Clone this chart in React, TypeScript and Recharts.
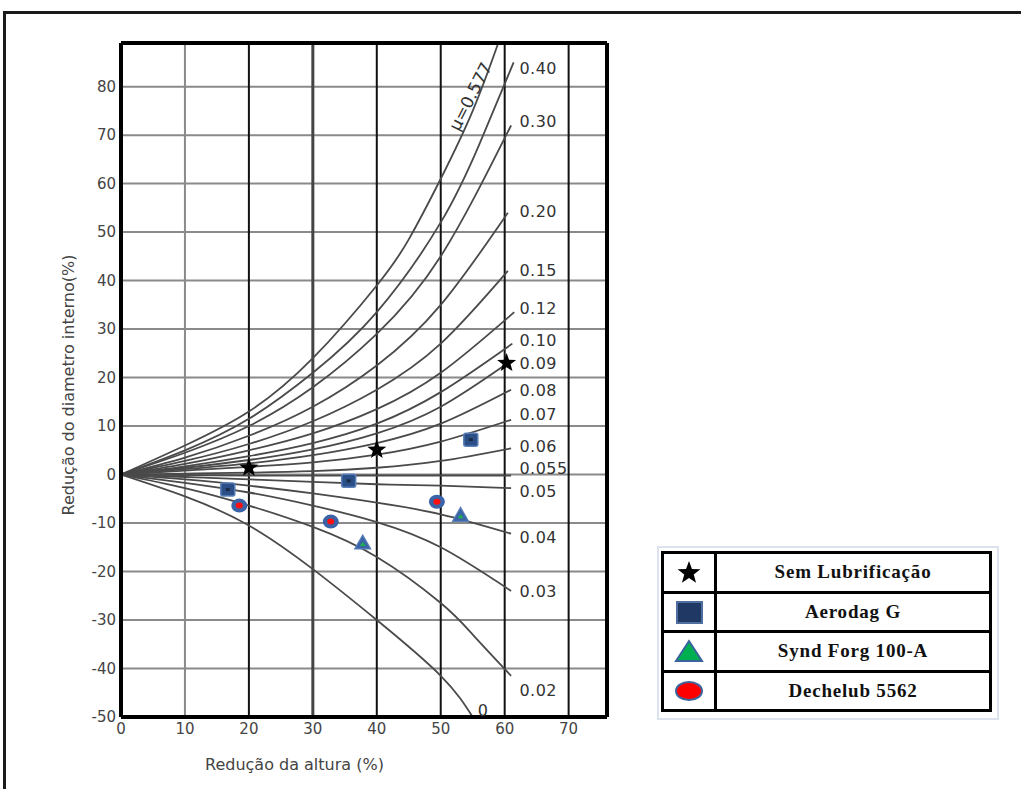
import React from "react";
import { CartesianGrid, ComposedChart, Line, ReferenceLine, Scatter, XAxis, YAxis } from "recharts";

const xTicks = [0, 10, 20, 30, 40, 50, 60, 70];
const yTicks = [-50, -40, -30, -20, -10, 0, 10, 20, 30, 40, 50, 60, 70, 80];

// calibration curves (friction factor)
const mu0577 = [{ x: 0, y: 0 }, { x: 10, y: 6 }, { x: 20, y: 13 }, { x: 30, y: 24 }, { x: 40, y: 39 }, { x: 45, y: 48.5 }, { x: 50, y: 61 }, { x: 55, y: 75 }, { x: 59, y: 89 }];
const mu040 = [{ x: 0, y: 0 }, { x: 10, y: 5 }, { x: 20, y: 11.5 }, { x: 30, y: 21 }, { x: 40, y: 33.5 }, { x: 50, y: 52 }, { x: 56, y: 68 }, { x: 61.4, y: 85 }];
const mu030 = [{ x: 0, y: 0 }, { x: 10, y: 4.5 }, { x: 20, y: 10 }, { x: 30, y: 18 }, { x: 40, y: 29 }, { x: 50, y: 45 }, { x: 61, y: 72 }];
const mu020 = [{ x: 0, y: 0 }, { x: 10, y: 3.5 }, { x: 20, y: 8 }, { x: 30, y: 14 }, { x: 40, y: 22.5 }, { x: 50, y: 35 }, { x: 60.5, y: 54 }];
const mu015 = [{ x: 0, y: 0 }, { x: 10, y: 2.8 }, { x: 20, y: 6.3 }, { x: 30, y: 11 }, { x: 40, y: 17.5 }, { x: 50, y: 27 }, { x: 60.5, y: 42 }];
const mu012 = [{ x: 0, y: 0 }, { x: 10, y: 2.2 }, { x: 20, y: 5 }, { x: 30, y: 8.5 }, { x: 40, y: 13.5 }, { x: 50, y: 21 }, { x: 61.5, y: 33.5 }];
const mu010 = [{ x: 0, y: 0 }, { x: 10, y: 1.7 }, { x: 20, y: 3.8 }, { x: 30, y: 6.5 }, { x: 40, y: 10.5 }, { x: 50, y: 17 }, { x: 61.2, y: 27 }];
const mu009 = [{ x: 0, y: 0 }, { x: 10, y: 1.4 }, { x: 20, y: 3 }, { x: 30, y: 5.2 }, { x: 40, y: 8.5 }, { x: 50, y: 14 }, { x: 60.5, y: 23 }];
const mu008 = [{ x: 0, y: 0 }, { x: 10, y: 1.1 }, { x: 20, y: 2.3 }, { x: 30, y: 4 }, { x: 40, y: 6.5 }, { x: 50, y: 10.5 }, { x: 61, y: 17.5 }];
const mu007 = [{ x: 0, y: 0 }, { x: 10, y: 0.8 }, { x: 20, y: 1.6 }, { x: 30, y: 2.5 }, { x: 40, y: 4.1 }, { x: 50, y: 6.8 }, { x: 61, y: 11.3 }];
const mu006 = [{ x: 0, y: 0 }, { x: 10, y: 0.2 }, { x: 20, y: 0.4 }, { x: 30, y: 0.7 }, { x: 40, y: 1.4 }, { x: 50, y: 2.8 }, { x: 61, y: 5.4 }];
const mu0055 = [{ x: 0, y: 0 }, { x: 20, y: -0.2 }, { x: 40, y: -0.2 }, { x: 61, y: -0.2 }];
const mu005 = [{ x: 0, y: 0 }, { x: 10, y: -0.5 }, { x: 20, y: -1 }, { x: 30, y: -1.5 }, { x: 40, y: -2 }, { x: 50, y: -2.3 }, { x: 61, y: -2.8 }];
const mu004 = [{ x: 0, y: 0 }, { x: 10, y: -1 }, { x: 20, y: -2.3 }, { x: 30, y: -3.9 }, { x: 40, y: -5.8 }, { x: 50, y: -8.2 }, { x: 61, y: -12.2 }];
const mu003 = [{ x: 0, y: 0 }, { x: 10, y: -1.7 }, { x: 20, y: -3.7 }, { x: 30, y: -6.4 }, { x: 40, y: -9.8 }, { x: 50, y: -15 }, { x: 61, y: -24 }];
const mu002 = [{ x: 0, y: 0 }, { x: 10, y: -2.8 }, { x: 20, y: -6.4 }, { x: 30, y: -10.8 }, { x: 40, y: -17 }, { x: 50, y: -26.5 }, { x: 55, y: -33 }, { x: 61, y: -41.5 }];
const mu000 = [{ x: 0, y: 0 }, { x: 10, y: -4.5 }, { x: 20, y: -10.5 }, { x: 30, y: -19.5 }, { x: 40, y: -30 }, { x: 50, y: -41.5 }, { x: 55, y: -50 }];

const curves = [mu0577, mu040, mu030, mu020, mu015, mu012, mu010, mu009, mu008, mu007, mu006, mu0055, mu005, mu004, mu003, mu002, mu000];

const curveLabels = [
  { x: 62.3, y: 83.7, text: "0.40" },
  { x: 62.3, y: 72.8, text: "0.30" },
  { x: 62.3, y: 54.4, text: "0.20" },
  { x: 62.3, y: 42.2, text: "0.15" },
  { x: 62.3, y: 34.4, text: "0.12" },
  { x: 62.3, y: 27.8, text: "0.10" },
  { x: 62.3, y: 23.0, text: "0.09" },
  { x: 62.3, y: 17.4, text: "0.08" },
  { x: 62.3, y: 12.4, text: "0.07" },
  { x: 62.3, y: 5.9, text: "0.06" },
  { x: 62.3, y: 1.2, text: "0.055" },
  { x: 62.3, y: -3.4, text: "0.05" },
  { x: 62.3, y: -12.9, text: "0.04" },
  { x: 62.3, y: -24, text: "0.03" },
  { x: 62.3, y: -44.5, text: "0.02" },
  { x: 55.8, y: -48.6, text: "0" },
];
const muLabel = [{ x: 54.6, y: 78, text: "μ=0.577" }];

// experimental points
const semLubrificacao = [{ x: 20, y: 1.4 }, { x: 40, y: 5.1 }, { x: 60.3, y: 23 }];
const aerodag = [{ x: 16.7, y: -3.1 }, { x: 35.6, y: -1.3 }, { x: 54.7, y: 7.2 }];
const syndForg = [{ x: 37.8, y: -14.1 }, { x: 53.1, y: -8.4 }];
const dechelub = [{ x: 18.5, y: -6.4 }, { x: 32.8, y: -9.7 }, { x: 49.4, y: -5.6 }];

const legendRows = ["Sem Lubrificação", "Aerodag G", "Synd Forg 100-A", "Dechelub 5562"];

const AXIS_FONT = "'DejaVu Sans', Verdana, sans-serif";

function starPath(cx: number, cy: number, R: number, r: number) {
  let d = "";
  for (let i = 0; i < 10; i++) {
    const a = -Math.PI / 2 + (i * Math.PI) / 5;
    const rad = i % 2 === 0 ? R : r;
    d += (i === 0 ? "M" : "L") + (cx + rad * Math.cos(a)).toFixed(2) + "," + (cy + rad * Math.sin(a)).toFixed(2);
  }
  return d + "Z";
}

const StarShape = (p: any) => <path d={starPath(p.cx, p.cy, 10, 4.2)} fill="#000" />;
const SquareShape = (p: any) => (
  <g>
    <rect x={p.cx - 7} y={p.cy - 6.5} width={14} height={13} rx={2} fill="#2B4F86" stroke="#5B7FB8" strokeWidth={1.5} />
    <rect x={p.cx - 2} y={p.cy - 1.5} width={4} height={3} fill="#1a2a45" />
  </g>
);
const TriangleShape = (p: any) => (
  <g>
    <path d={`M${p.cx},${p.cy - 8} L${p.cx + 8},${p.cy + 6} L${p.cx - 8},${p.cy + 6} Z`} fill="#3A63A8" stroke="#5B7FB8" strokeWidth={1.2} />
    <path d={`M${p.cx},${p.cy - 1} L${p.cx + 3},${p.cy + 3} L${p.cx - 3},${p.cy + 3} Z`} fill="#1DB14B" />
  </g>
);
const CircleShape = (p: any) => (
  <g>
    <ellipse cx={p.cx} cy={p.cy} rx={8} ry={7} fill="#3A63A8" />
    <ellipse cx={p.cx} cy={p.cy} rx={3.5} ry={3} fill="#FF1010" />
  </g>
);
const CurveText = (p: any) => (
  <text x={p.cx} y={p.cy} dy="0.36em" fontFamily={AXIS_FONT} fontSize={16} letterSpacing={0.5} fill="#333">
    {p.payload.text}
  </text>
);
const MuText = (p: any) => (
  <text x={p.cx} y={p.cy} textAnchor="middle" dy="0.36em" fontFamily={AXIS_FONT} fontSize={17} fill="#333" transform={`rotate(-63 ${p.cx} ${p.cy})`}>
    {p.payload.text}
  </text>
);

function LegendIcon({ i }: { i: number }) {
  if (i === 0) return <svg width={30} height={26}><path d={starPath(15, 14, 12, 5)} fill="#000" /></svg>;
  if (i === 1) return <svg width={30} height={26}><rect x={3} y={3} width={25} height={21} fill="#1F3864" stroke="#4F6FA0" strokeWidth={2} /></svg>;
  if (i === 2) return <svg width={32} height={26}><path d="M16,3 L29,23 L3,23 Z" fill="#00B050" stroke="#3C649C" strokeWidth={2} /></svg>;
  return <svg width={32} height={26}><ellipse cx={16} cy={13} rx={13} ry={9} fill="#FF0000" stroke="#3C649C" strokeWidth={2} /></svg>;
}

export default function App() {
  return (
    <div style={{ position: "relative", width: 1021, height: 789, overflow: "hidden", background: "#fff" }}>
      <style>{`body{margin:0}`}</style>
      <div style={{ position: "absolute", left: 3, top: 11, width: 1030, height: 800, borderTop: "3px solid #1a1a1a", borderLeft: "3px solid #1a1a1a" }} />
      <div style={{ position: "absolute", left: 0, top: 0 }}>
        <ComposedChart width={620} height={789} margin={{ top: 43, right: 13, bottom: 0, left: 0 }}>
          <CartesianGrid vertical={false} stroke="#8a8a8a" strokeWidth={2} />
          {xTicks.slice(1).map((t) => (
            <ReferenceLine key={t} x={t} stroke={t === 10 ? "#8a8a8a" : t === 30 ? "#444" : "#111"} strokeWidth={t === 30 ? 3 : 2} />
          ))}
          <XAxis
            type="number"
            dataKey="x"
            domain={[0, 76]}
            ticks={xTicks}
            allowDataOverflow
            height={72}
            tickLine={false}
            tickSize={4}
            axisLine={{ stroke: "#000", strokeWidth: 4 }}
            tick={{ fontFamily: AXIS_FONT, fontSize: 15, fill: "#444" }}
          />
          <YAxis
            type="number"
            dataKey="y"
            domain={[-50, 89]}
            ticks={yTicks}
            allowDataOverflow
            width={121}
            tickLine={false}
            tickSize={3}
            axisLine={{ stroke: "#000", strokeWidth: 4 }}
            tick={{ fontFamily: AXIS_FONT, fontSize: 15, fill: "#444" }}
          />
          {curves.map((c, i) => (
            <Line key={i} data={c} dataKey="y" type="natural" dot={false} stroke="#4a4a4a" strokeWidth={1.8} isAnimationActive={false} />
          ))}
          <ReferenceLine x={76} stroke="#000" strokeWidth={4} />
          <ReferenceLine y={89} stroke="#000" strokeWidth={4} />
          <Scatter data={curveLabels} shape={CurveText} isAnimationActive={false} />
          <Scatter data={muLabel} shape={MuText} isAnimationActive={false} />
          <Scatter data={aerodag} shape={SquareShape} isAnimationActive={false} />
          <Scatter data={syndForg} shape={TriangleShape} isAnimationActive={false} />
          <Scatter data={dechelub} shape={CircleShape} isAnimationActive={false} />
          <Scatter data={semLubrificacao} shape={StarShape} isAnimationActive={false} />
        </ComposedChart>
      </div>
      <div style={{ position: "absolute", left: 205, top: 755, fontFamily: AXIS_FONT, fontSize: 16, color: "#444", whiteSpace: "nowrap" }}>
        Redução da altura (%)
      </div>
      <div
        style={{
          position: "absolute",
          left: 68,
          top: 385,
          transform: "translate(-50%, -50%) rotate(-90deg)",
          fontFamily: AXIS_FONT,
          fontSize: 16,
          color: "#444",
          whiteSpace: "nowrap",
        }}
      >
        Redução do diametro interno(%)
      </div>
      <div style={{ position: "absolute", left: 657, top: 546, width: 338, height: 170, border: "2px solid #dde3ee" }} />
      <table
        style={{
          position: "absolute",
          left: 661,
          top: 551,
          width: 331,
          height: 161,
          borderCollapse: "collapse",
          fontFamily: "'Liberation Serif', 'Times New Roman', serif",
          fontWeight: "bold",
          fontSize: 19,
          letterSpacing: 0.8,
        }}
      >
        <tbody>
          {legendRows.map((name, i) => (
            <tr key={name}>
              <td style={{ border: "3px solid #000", width: 50, textAlign: "center", padding: 0, verticalAlign: "middle" }}>
                <div style={{ display: "flex", justifyContent: "center" }}>
                  <LegendIcon i={i} />
                </div>
              </td>
              <td style={{ border: "3px solid #000", textAlign: "center", padding: 0, color: "#111", whiteSpace: "nowrap" }}>{name}</td>
            </tr>
          ))}
        </tbody>
      </table>
    </div>
  );
}
